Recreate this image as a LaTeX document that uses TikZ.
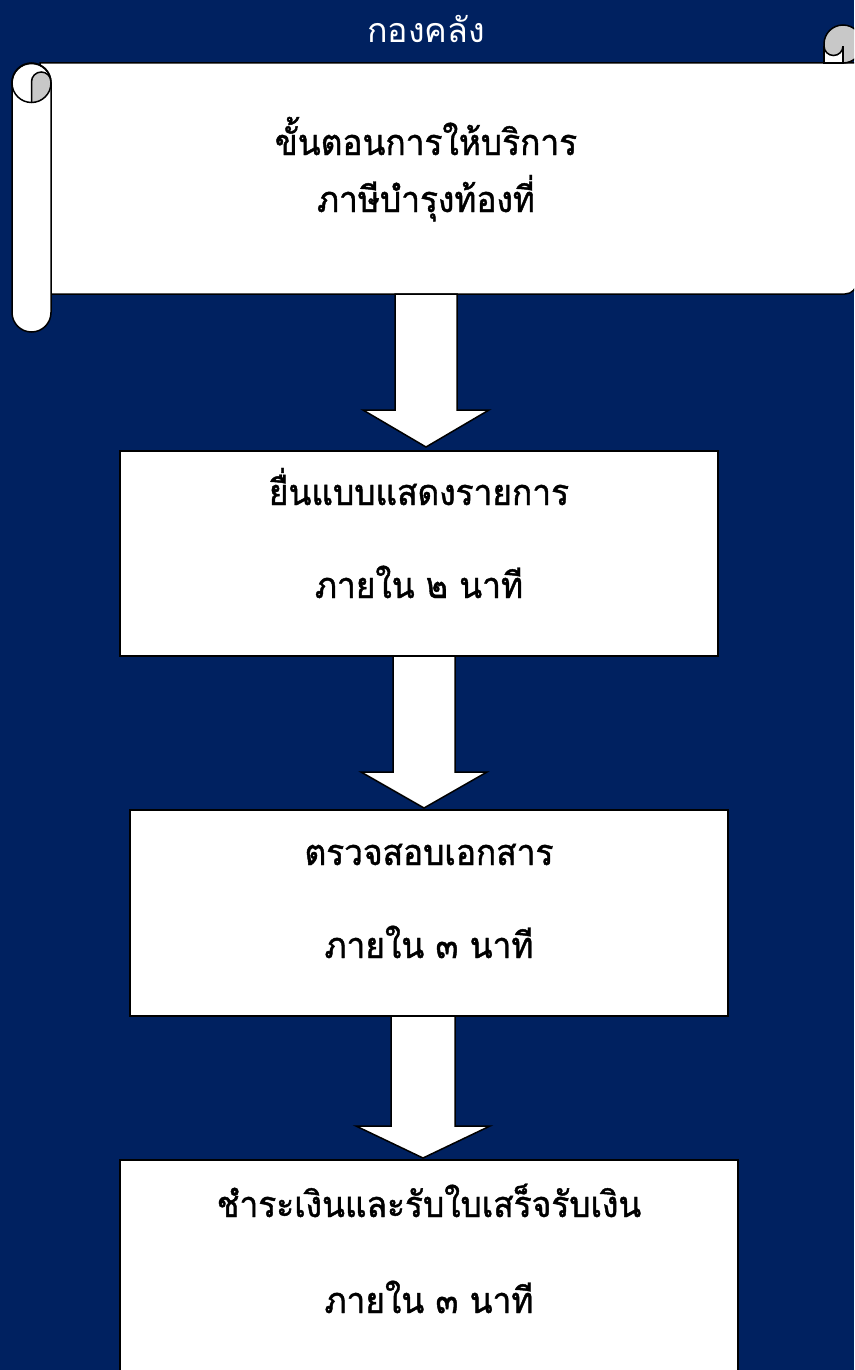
\documentclass[tikz,border=0pt]{standalone}
\usepackage{fontspec}
\newfontfamily\thaifont[Script=Thai]{Loma}
\newfontfamily\thaibody[Script=Thai, FakeStretch=0.93, FakeBold=1.2]{Loma}
\definecolor{navy}{RGB}{0,33,96}
\definecolor{curlgray}{RGB}{200,200,200}
\tikzset{
  outline/.style={draw=black, line width=1.5pt},
  stepbox/.style={outline, fill=white, inner sep=0pt, outer sep=0pt},
  blockarrow/.style={outline, fill=white, line join=miter},
  bodytext/.style={anchor=base, text=black, inner sep=0pt, font=\thaibody\fontsize{36}{36}\selectfont},
  titletext/.style={anchor=base, text=white, inner sep=0pt, font=\thaifont\fontsize{34}{34}\selectfont}
}
% #1 x centre, #2 top y, #3 head y, #4 tip y, #5 shaft half width, #6 head half width
\newcommand\downarrowshape[6]{%
  \draw[blockarrow] (#1-#5,#2) -- (#1+#5,#2) -- (#1+#5,#3) -- (#1+#6,#3) -- (#1,#4) -- (#1-#6,#3) -- (#1-#5,#3) -- cycle;}
\begin{document}
\begin{tikzpicture}[x=1pt,y=-1pt]
\useasboundingbox (0,0) rectangle (854,1370);
\clip (0,0) rectangle (854,1370);
\fill[navy] (0,0) rectangle (854,1370);

% title
\node[titletext] (title) at (426,43) {กองคลัง};

% scroll body
\draw[outline, fill=white] (40,63) -- (857,63) -- (857,282) .. controls (857,288.6) and (851.6,294) .. (845,294) -- (40,294) -- cycle;
% left roll
\draw[outline, fill=white, rounded corners=19.5pt] (12,63) rectangle (51,332);
\begin{scope}
  \clip (31.5,83) circle[radius=19.5];
  \draw[outline, fill=curlgray, rounded corners=9.75pt] (31.5,72) rectangle (51,115);
\end{scope}
\draw[outline] (31.5,83) circle[radius=19.5];
% top-right curl
\draw[outline, fill=curlgray] (843,44) circle[radius=19];
\draw[outline, fill=white] (824,47) rectangle (843,63);
\begin{scope}
  \clip (824,47) rectangle (843,63);
  \draw[outline, fill=curlgray] (833.5,46) circle[radius=9.5];
\end{scope}
\coordinate (scrollbottom) at (426,294);
\node[bodytext] (s1) at (426,155) {ขั้นตอนการให้บริการ};
\node[bodytext] (s2) at (426,212) {ภาษีบำรุงท้องที่};

% step boxes
\node[stepbox, minimum width=598pt, minimum height=205pt] (b1) at (419,553.5) {};
\node[bodytext] (b1a) at (419,505) {ยื่นแบบแสดงรายการ};
\node[bodytext] (b1b) at (419,598) {ภายใน ๒ นาที};

\node[stepbox, minimum width=598pt, minimum height=206pt] (b2) at (429,913) {};
\node[bodytext] (b2a) at (429,865) {ตรวจสอบเอกสาร};
\node[bodytext] (b2b) at (429,958) {ภายใน ๓ นาที};

\node[stepbox, minimum width=618pt, minimum height=240pt] (b3) at (429,1280) {};
\node[bodytext] (b3a) at (429,1217) {ชำระเงินและรับใบเสร็จรับเงิน};
\node[bodytext] (b3b) at (429,1313) {ภายใน ๓ นาที};

% block arrows
\downarrowshape{426}{294}{410}{447}{31}{63}
\downarrowshape{424}{656}{772}{808}{31}{63}
\downarrowshape{423}{1016}{1126}{1158}{32}{67}
\end{tikzpicture}
\end{document}
